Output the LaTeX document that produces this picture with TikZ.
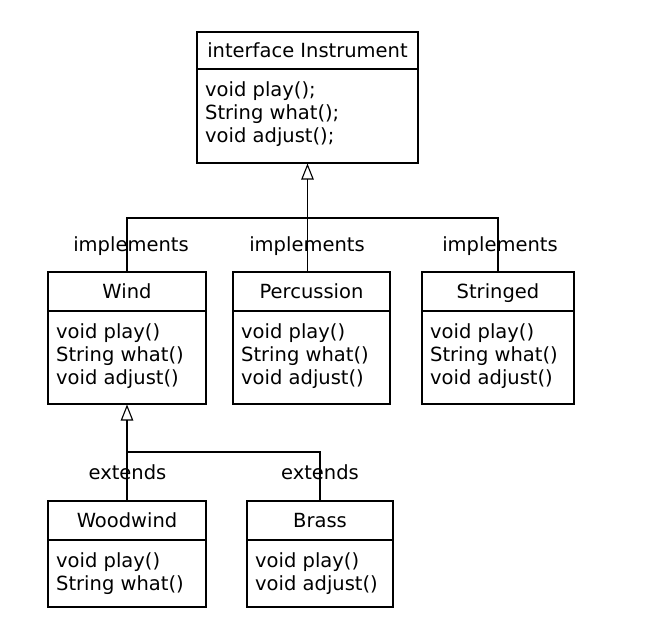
\documentclass[tikz,border=0pt]{standalone}
\usepackage{fontspec}
\setmainfont{DejaVu Sans}
\usetikzlibrary{arrows.meta}
\begin{document}
\begin{tikzpicture}[x=1pt,y=-1pt,
  every node/.style={font=\fontsize{19.5}{23}\selectfont},
  hdr/.style={draw, line width=1.1pt, anchor=north west, inner sep=0pt, outer sep=0pt, text height=14.5pt, text depth=0pt},
  bodybox/.style={draw, line width=1.1pt, anchor=north west, inner sep=0pt, outer sep=0pt},
  members/.style={anchor=north west, align=left, inner sep=0pt, xshift=8pt, yshift=-12.7pt},
  lbl/.style={anchor=base, inner sep=0pt},
  conn/.style={line width=1.1pt},
  inh/.style={line width=1.1pt, -{Triangle[open, length=16pt, width=12.5pt, line width=1.1pt]}, shorten >=0.55pt}
]
\useasboundingbox (0,0) rectangle (645,626);

% Instrument
\node[hdr, minimum width=221pt, minimum height=37pt] (instrh) at (197,32) {interface Instrument};
\node[bodybox, minimum width=221pt, minimum height=94pt] (instrb) at (instrh.south west) {};
\node[members] (instrt) at (instrb.north west) {void play();\\String what();\\void adjust();};

% Wind
\node[hdr, minimum width=158pt, minimum height=39pt] (windh) at (48,272) {Wind};
\node[bodybox, minimum width=158pt, minimum height=93pt] (windb) at (windh.south west) {};
\node[members] (windt) at (windb.north west) {void play()\\String what()\\void adjust()};

% Percussion
\node[hdr, minimum width=157pt, minimum height=39pt] (perch) at (233,272) {Percussion};
\node[bodybox, minimum width=157pt, minimum height=93pt] (percb) at (perch.south west) {};
\node[members] (perct) at (percb.north west) {void play()\\String what()\\void adjust()};

% Stringed
\node[hdr, minimum width=152pt, minimum height=39pt] (strh) at (422,272) {Stringed};
\node[bodybox, minimum width=152pt, minimum height=93pt] (strb) at (strh.south west) {};
\node[members] (strt) at (strb.north west) {void play()\\String what()\\void adjust()};

% Woodwind
\node[hdr, minimum width=158pt, minimum height=39pt] (woodh) at (48,501) {Woodwind};
\node[bodybox, minimum width=158pt, minimum height=67pt] (woodb) at (woodh.south west) {};
\node[members] (woodt) at (woodb.north west) {void play()\\String what()};

% Brass
\node[hdr, minimum width=146pt, minimum height=39pt] (brassh) at (247,501) {Brass};
\node[bodybox, minimum width=146pt, minimum height=67pt] (brassb) at (brassh.south west) {};
\node[members] (brasst) at (brassb.north west) {void play()\\void adjust()};

% labels
\node[lbl] (imp1) at (131,251) {implements};
\node[lbl] (imp2) at (307,251) {implements};
\node[lbl] (imp3) at (500,251) {implements};
\node[lbl] (ext1) at (127.5,479) {extends};
\node[lbl] (ext2) at (320,479) {extends};

% connectors
\path (instrb.south) ++(0,55) coordinate (j1);
\path (windb.south) ++(0,48) coordinate (j2);
\draw[inh] (j1) -- (instrb.south);
\draw[conn] (windh.north) |- (j1) -| (strh.north);
\draw[conn] (j1) -- (j1 |- perch.north);
\draw[inh] (woodh.north) -- (windb.south);
\draw[conn] (j2) -| (brassh.north);
\end{tikzpicture}
\end{document}
